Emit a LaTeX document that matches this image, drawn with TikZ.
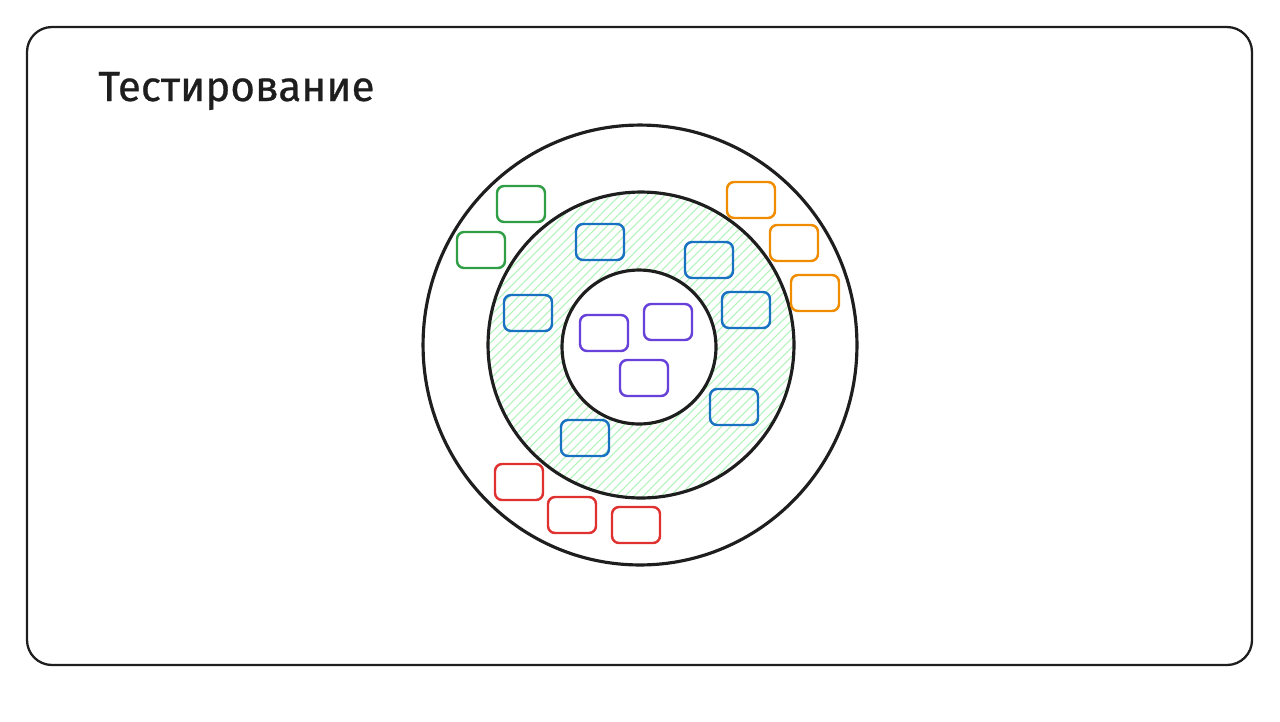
\documentclass[tikz,border=0pt]{standalone}
\usepackage{fontspec}
\setmainfont{Fira Sans}
\definecolor{ink}{HTML}{1E1E1E}
\definecolor{grn}{HTML}{2F9E44}
\definecolor{org}{HTML}{F08C00}
\definecolor{blu}{HTML}{1971C2}
\definecolor{vio}{HTML}{6741D9}
\definecolor{rd}{HTML}{E03131}
\definecolor{hatch}{HTML}{B2F2BB}
\tikzset{
  card/.style={draw=#1, line width=1.4pt, rounded corners=4pt,
    minimum width=0.96cm, minimum height=0.72cm, inner sep=0pt},
  ring/.style={draw=ink, line width=1.8pt},
}
\begin{document}
\begin{tikzpicture}[x=0.02cm, y=-0.02cm]
	\useasboundingbox (0,0) rectangle (1280,721);
	% frame and title
	\draw[ink, line width=1.3pt, rounded corners=0.5cm] (27,27) rectangle (1252,665);
	\node[anchor=base west, inner sep=0pt, font=\fontsize{24}{28}\selectfont\addfontfeatures{FakeBold=0.6}, text=ink] (title) at (98,101) {Тестирование};
	% hatched ring
	\begin{scope}
		\clip (641,345) circle [radius=3.06cm];
		\foreach \i in {-40,...,40}
			\draw[hatch, line width=0.6pt] ({641+\i*9-200},545) -- ({641+\i*9+200},145);
	\end{scope}
	\fill[white] (639,347) circle [radius=1.54cm];
	% rings
	\draw[ring] (640,345) circle [x radius=4.34cm, y radius=4.4cm];
	\draw[ring] (641,345) circle [radius=3.06cm];
	\draw[ring] (639,347) circle [radius=1.54cm];
	% cards
	\node[card=grn] (g1) at (521,204) {};
	\node[card=grn] (g2) at (481,250) {};
	\node[card=org] (o1) at (751,200) {};
	\node[card=org] (o2) at (794,243) {};
	\node[card=org] (o3) at (815,293) {};
	\node[card=blu] (b1) at (600,242) {};
	\node[card=blu] (b2) at (709,260) {};
	\node[card=blu] (b3) at (528,313) {};
	\node[card=blu] (b4) at (746,310) {};
	\node[card=blu] (b5) at (734,407) {};
	\node[card=blu] (b6) at (585,438) {};
	\node[card=vio] (p1) at (604,333) {};
	\node[card=vio] (p2) at (668,322) {};
	\node[card=vio] (p3) at (644,378) {};
	\node[card=rd] (r1) at (519,482) {};
	\node[card=rd] (r2) at (572,515) {};
	\node[card=rd] (r3) at (636,525) {};
\end{tikzpicture}
\end{document}
